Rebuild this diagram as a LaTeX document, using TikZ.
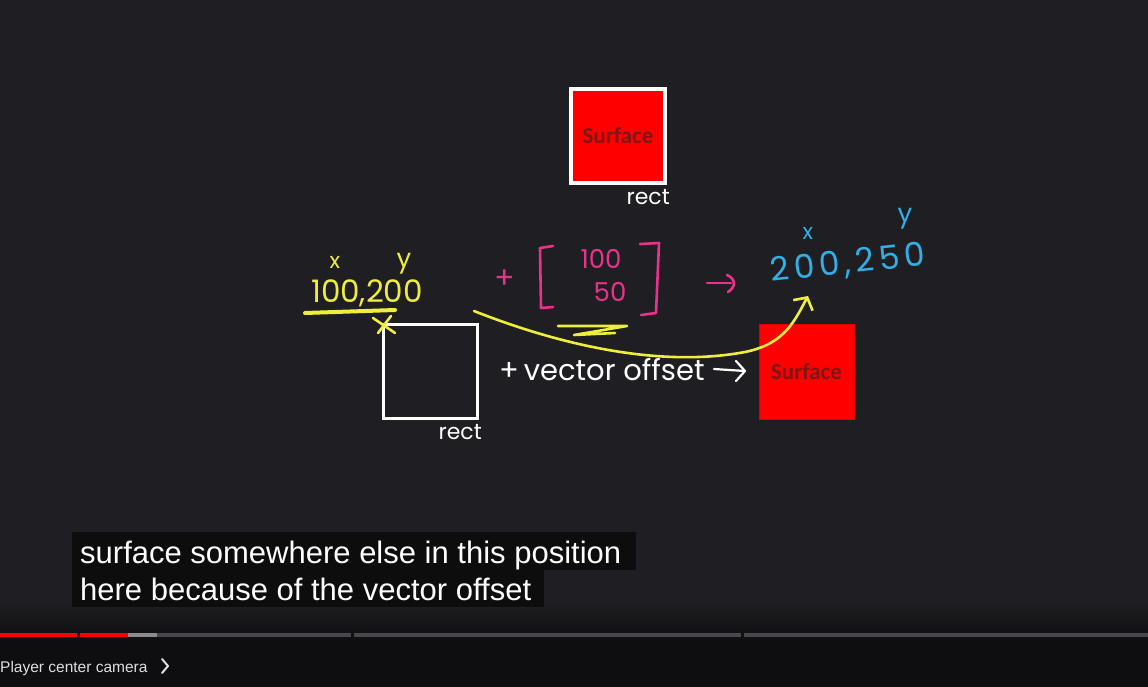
\documentclass[tikz,border=0pt]{standalone}
\usepackage{fontspec}
\setmainfont{Poppins}
\newfontfamily\subfont{Liberation Sans}
\newfontfamily\surffont{Carlito}[BoldFont=* Bold]
\newfontfamily\wideblue{Poppins}[LetterSpace=14]
\usetikzlibrary{arrows.meta}
\definecolor{bg}{RGB}{31,31,35}
\definecolor{bgdark}{RGB}{14,14,16}
\definecolor{hyel}{RGB}{240,238,60}
\definecolor{hpink}{RGB}{232,50,140}
\definecolor{hblue}{RGB}{50,175,230}
\definecolor{surftxt}{RGB}{125,22,22}
\definecolor{barred}{RGB}{255,0,0}
\definecolor{barlight}{RGB}{140,140,140}
\definecolor{bardark}{RGB}{72,72,76}
\definecolor{captxt}{RGB}{222,222,222}
\tikzset{
  surfbox/.style={fill=barred, minimum size=94pt, inner sep=0pt,
    font=\surffont\bfseries\fontsize{23}{27}\selectfont, text=surftxt},
  rectlabel/.style={text=white, font=\fontsize{22}{26}\selectfont, inner sep=0pt},
  pen/.style={line width=2.6pt, line cap=round, line join=round},
  hand/.style={inner sep=0pt},
  bar/.style={line width=4pt},
  subbox/.style={fill=black!95!white, inner sep=0pt}
}
\begin{document}
\begin{tikzpicture}[x=1pt,y=-1pt]
\useasboundingbox (0,0) rectangle (1148,687);
\fill[bg] (0,0) rectangle (1148,687);
\fill[bgdark] (0,640) rectangle (1148,687);
\foreach \i in {0,...,19}{
  \pgfmathsetmacro{\t}{\i/20*100}
  \fill[bgdark!\t!bg] (0,600+\i*2) rectangle (1148,602+\i*2);
}

% top surface
\node[surfbox, draw=white, line width=4pt] (topsurf) at (618,136) {Surface};
\node[rectlabel, anchor=north east] (toprect) at (670,189) {rect};

% white rect
\node[draw=white, line width=3pt, minimum size=94pt, inner sep=0pt] (wrect) at (430.5,371.5) {};
\node[rectlabel, anchor=north east] (wlabel) at (482,424) {rect};

% right surface
\node[surfbox, minimum size=95pt, draw=red!88!black, line width=0.8pt] (rsurf) at (806.5,371.5) {Surface};

% vector offset text with arrow
\node[text=white, font=\fontsize{29}{34}\selectfont, inner sep=0pt, anchor=west] (voff) at (499,370) {+\,vector offset};
\coordinate (varrowtip) at (745,371);
\draw[white, line width=2.2pt, line cap=round, line join=round]
  ([xshift=9pt,yshift=1pt]voff.east) -- (varrowtip)
  (736,361) -- (varrowtip) -- (736,381);

% yellow annotations
\node[hand, text=hyel, font=\fontsize{31}{36}\selectfont] (ypos) at (367,293) {100,200};
\node[hand, text=hyel, font=\fontsize{22}{26}\selectfont] (yx) at (335,262) {x};
\node[hand, text=hyel, font=\fontsize{26}{30}\selectfont] (yy) at (404,264) {y};
\draw[hyel, line width=4pt, line cap=round] (305,313) -- (395,310);
\draw[hyel, pen] (373,318) -- (395,333) (378,333) -- (391,316);
\draw[hyel, pen] (558,326) -- (627,326) -- (574,335) -- (615,333);

% pink annotations
\node[hand, text=hpink, font=\fontsize{30}{34}\selectfont] (pplus) at (505,279) {+};
\draw[hpink, pen] (553,246) -- (540,248) -- (541,308) -- (553,307);
\draw[hpink, pen] (640,244) -- (659,243) -- (656,313) -- (641,315);
\node[hand, text=hpink, font=\fontsize{26}{30}\selectfont] (p100) at (601,259) {100};
\node[hand, text=hpink, font=\fontsize{26}{30}\selectfont] (p50) at (610,292) {50};
\draw[hpink, pen] (707,283) -- (731,283);
\draw[hpink, pen] (727,275) .. controls (736,279) and (736,287) .. (728,292);

% blue result
\node[hand, text=hblue, font=\wideblue\fontsize{33}{38}\selectfont, rotate=6] (bres) at (848,264) {200,250};
\node[hand, text=hblue, font=\fontsize{22}{26}\selectfont] (bx) at (808,233) {x};
\node[hand, text=hblue, font=\fontsize{26}{30}\selectfont] (by) at (905,219) {y};

% yellow connector
\coordinate (cstart) at (474,311);
\coordinate (ctip) at (808,296);
\draw[hyel, pen, -{Straight Barb[length=9pt,width=22pt,line width=2.6pt]}]
  (cstart) .. controls (560,345) and (660,368) .. (745,352)
  .. controls (785,344) and (795,320) .. (ctip);

% subtitles
\node[subbox, minimum width=564pt, minimum height=38pt, anchor=north west] (sub1) at (72,532) {};
\node[subbox, minimum width=472pt, minimum height=37pt, anchor=north west] (sub2) at (72,570) {};
\node[anchor=base west, inner sep=0pt, text=white, font=\subfont\fontsize{31}{36}\selectfont] (t1) at (80,563) {surface somewhere else in this position};
\node[anchor=base west, inner sep=0pt, text=white, font=\subfont\fontsize{31}{36}\selectfont] (t2) at (80,600) {here because of the vector offset};

% progress bar
\draw[bar, barred] (0,635) -- (77,635) (80,635) -- (128,635);
\draw[bar, barlight] (128,635) -- (157,635);
\draw[bar, bardark] (157,635) -- (351,635) (354,635) -- (741,635) (744,635) -- (1148,635);

% chapter label
\node[anchor=base west, inner sep=0pt, text=captxt, font=\subfont\fontsize{15.5}{19}\selectfont] (chap) at (0,672) {Player center camera};
\draw[captxt, line width=2pt, line cap=round, line join=round] (162,659) -- (168,666) -- (162,673);
\end{tikzpicture}
\end{document}
